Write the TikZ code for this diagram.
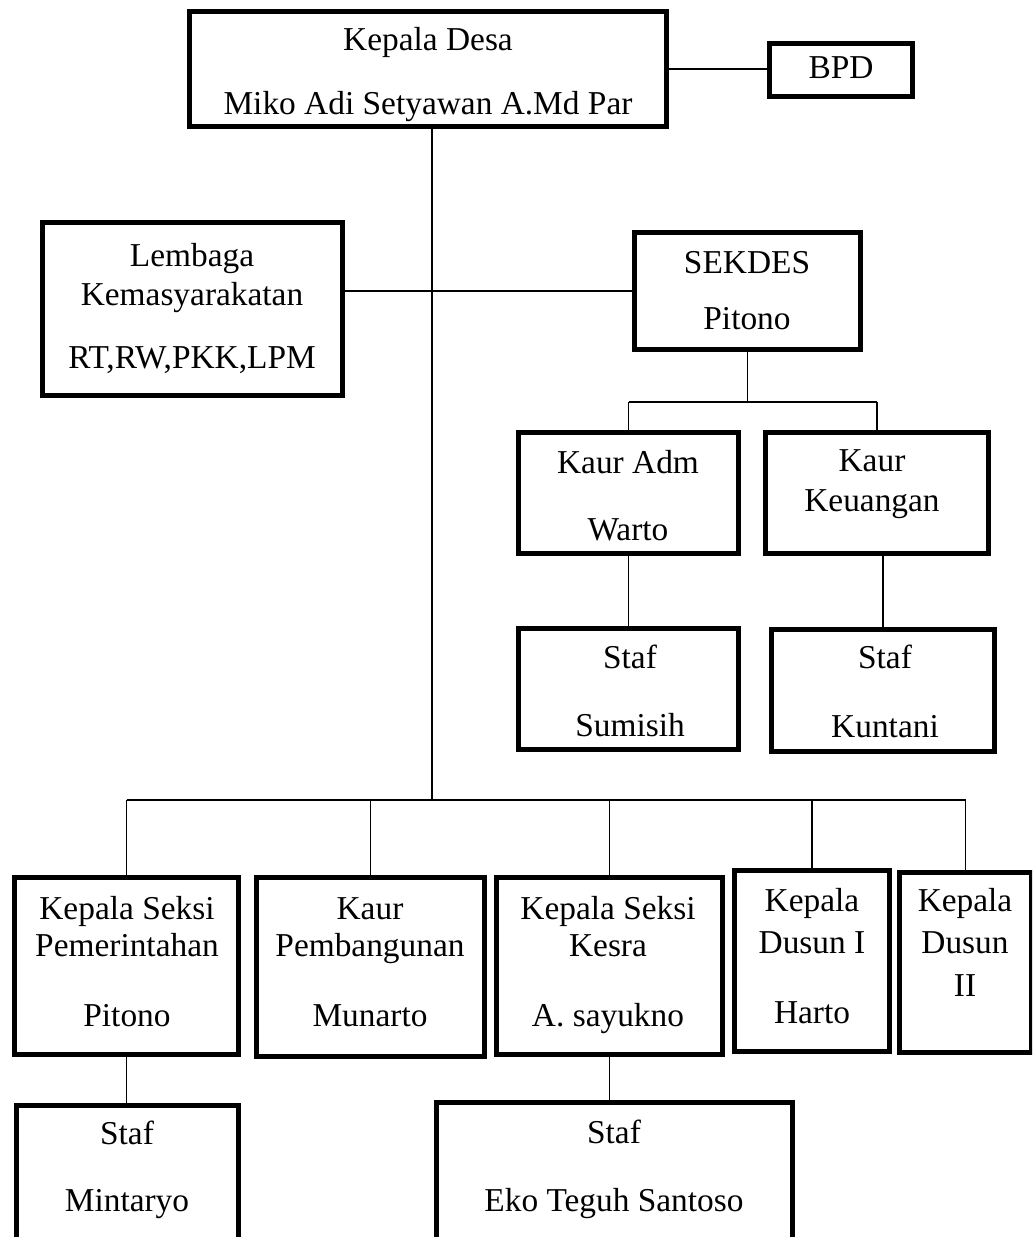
\documentclass[tikz,border=0pt]{standalone}
\usepackage{fontspec}
\setmainfont{Liberation Serif}
\usetikzlibrary{fit}

\tikzset{
  box/.style={draw,line width=2.8pt,inner sep=0pt},
  txt/.style={font=\fontsize{19}{22}\selectfont,inner sep=0pt,text height=0.94em,text depth=0pt},
  conn/.style={line width=0.8pt}
}

\begin{document}
\begin{tikzpicture}[x=0.02cm,y=-0.02cm]
    \path[use as bounding box,clip] (0,0) rectangle (1032,1237);
    \fill[white] (0,0) rectangle (1032,1237);

    % top
    \node[box,fit={(189.5,11.5) (666.5,126.5)}] (kades) {};
    \node[txt] (kades1) at (428,42) {Kepala Desa};
    \node[txt] (kades2) at (428,106) {Miko Adi Setyawan A.Md Par};

    \node[box,fit={(769.5,43.5) (912.5,96.5)}] (bpd) {};
    \node[txt] (bpd1) at (841,70) {BPD};

    \node[box,fit={(42.5,222.5) (342.5,395.5)}] (lembaga) {};
    \node[txt] (lembaga1) at (192,258) {Lembaga};
    \node[txt] (lembaga2) at (192,297) {Kemasyarakatan};
    \node[txt] (lembaga3) at (192,360) {RT,RW,PKK,LPM};

    \node[box,fit={(634.5,232.5) (860.5,349.5)}] (sekdes) {};
    \node[txt] (sekdes1) at (747,265) {SEKDES};
    \node[txt] (sekdes2) at (747,321) {Pitono};

    % under sekdes
    \node[box,fit={(518.5,432.5) (738.5,553.5)}] (kadm) {};
    \node[txt] (kadm1) at (628,465) {Kaur Adm};
    \node[txt] (kadm2) at (628,532) {Warto};

    \node[box,fit={(765.5,432.5) (988.5,553.5)}] (kkeu) {};
    \node[txt] (kkeu1) at (872,463) {Kaur};
    \node[txt] (kkeu2) at (872,503) {Keuangan};

    \node[box,fit={(518.5,628.5) (738.5,749.5)}] (stsum) {};
    \node[txt] (stsum1) at (630,660) {Staf};
    \node[txt] (stsum2) at (630,728) {Sumisih};

    \node[box,fit={(771.5,629.5) (994.5,751.5)}] (stkun) {};
    \node[txt] (stkun1) at (885,660) {Staf};
    \node[txt] (stkun2) at (885,729) {Kuntani};

    % bottom row
    \node[box,fit={(14.5,877.5) (238.5,1054.5)}] (kspem) {};
    \node[txt] (kspem1) at (127,911) {Kepala Seksi};
    \node[txt] (kspem2) at (127,948) {Pemerintahan};
    \node[txt] (kspem3) at (127,1018) {Pitono};

    \node[box,fit={(256.5,877.5) (484.5,1056.5)}] (kpemb) {};
    \node[txt] (kpemb1) at (370,911) {Kaur};
    \node[txt] (kpemb2) at (370,948) {Pembangunan};
    \node[txt] (kpemb3) at (370,1018) {Munarto};

    \node[box,fit={(496.5,877.5) (722.5,1054.5)}] (kesra) {};
    \node[txt] (kesra1) at (608,911) {Kepala Seksi};
    \node[txt] (kesra2) at (608,948) {Kesra};
    \node[txt] (kesra3) at (608,1018) {A. sayukno};

    \node[box,fit={(734.5,870.5) (889.5,1051.5)}] (dusun1) {};
    \node[txt] (dusun11) at (812,903) {Kepala};
    \node[txt] (dusun12) at (812,945) {Dusun I};
    \node[txt] (dusun13) at (812,1015) {Harto};

    \node[box,fit={(899.5,872.5) (1031.5,1052.5)}] (dusun2) {};
    \node[txt] (dusun21) at (965,903) {Kepala};
    \node[txt] (dusun22) at (965,945) {Dusun};
    \node[txt] (dusun23) at (965,988) {II};

    \node[box,fit={(16.5,1105.5) (238.5,1260)}] (stmin) {};
    \node[txt] (stmin1) at (127,1136) {Staf};
    \node[txt] (stmin2) at (127,1203) {Mintaryo};

    \node[box,fit={(436.5,1102.5) (792.5,1260)}] (steko) {};
    \node[txt] (steko1) at (614,1135) {Staf};
    \node[txt] (steko2) at (614,1203) {Eko Teguh Santoso};

    % lines
    \coordinate (bus) at (432,800);
    \coordinate (sekbus) at (749,402);

    \draw[conn] (kades.south -| bus) -- (bus);
    \draw[conn] (kades.east) -- (kades.east -| bpd.west);
    \draw[conn] (sekdes.west) -- (sekdes.west -| lembaga.east);

    \draw[conn] (sekdes.south) -- (sekdes.south |- sekbus);
    \draw[conn] (kadm.north |- sekbus) -- (kkeu.north |- sekbus);
    \foreach \b in {kadm,kkeu}
        \draw[conn] (\b.north |- sekbus) -- (\b.north);
    \draw[conn] (kadm.south) -- (kadm.south |- stsum.north);
    \draw[conn] (stkun.north |- kkeu.south) -- (stkun.north);

    \draw[conn] (kspem.north |- bus) -- (dusun2.north |- bus);
    \foreach \b in {kspem,kpemb,kesra,dusun1,dusun2}
        \draw[conn] (\b.north |- bus) -- (\b.north);
    \draw[conn] (kspem.south) -- (kspem.south |- stmin.north);
    \draw[conn] (kesra.south) -- (kesra.south |- steko.north);
\end{tikzpicture}
\end{document}
